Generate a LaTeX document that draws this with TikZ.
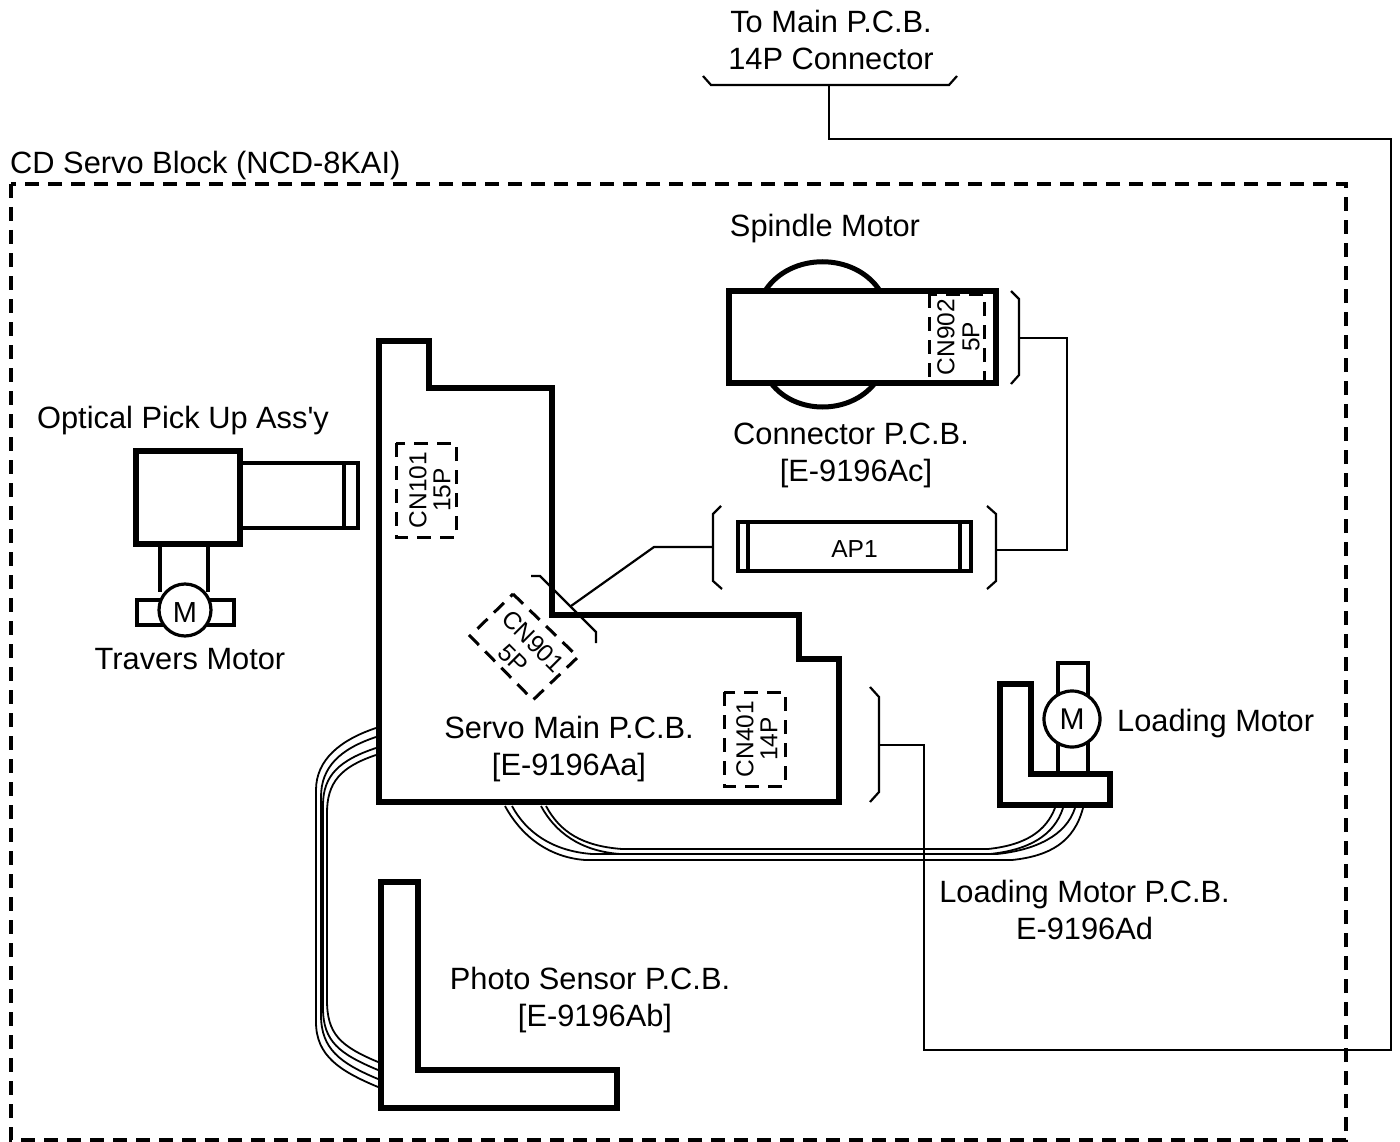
\documentclass[tikz,border=0pt]{standalone}
\usepackage{fontspec}
\setmainfont{Liberation Sans}
\tikzset{
  board/.style={draw=black,line width=6pt,line join=miter,fill=white,outer sep=0pt,inner sep=0pt},
  thin/.style={draw=black,line width=2.2pt,line join=miter},
  part/.style={draw=black,line width=3.2pt,line join=miter},
  cable/.style={draw=black,line width=1.8pt},
  dashbox/.style={draw=black,line width=3pt,dash pattern=on 14pt off 9pt},
  label/.style={font=\fontsize{30.8}{37}\selectfont,align=center,inner sep=0pt},
  small/.style={font=\fontsize{24.5}{24.5}\selectfont,align=center,inner sep=0pt},
  motor/.style={circle,draw=black,line width=3.2pt,fill=white,minimum size=52pt,inner sep=0pt,outer sep=0pt,font=\fontsize{29}{29}\selectfont},
}
\begin{document}
\begin{tikzpicture}[x=1pt,y=-1pt]
\useasboundingbox (0,0) rectangle (1400,1142);
% frame
\draw[dashbox,line width=3.4pt] (11,184) rectangle (1346,1140);
\node[label,anchor=west] (blocklabel) at (10,166) {CD Servo Block (NCD-8KAI)};
% main connector
\node[label] (mainlabel) at (831,40) {To Main P.C.B.\\14P Connector};
\draw[thin] (703,76) -- (711,85) -- (949,85) -- (957,76);
\coordinate (mainjack) at (829,85);
% spindle
\draw[part,line width=5pt] (765,291) .. controls (790,252) and (855,252) .. (880,291);
\draw[part,line width=5pt] (771,383) .. controls (795,415) and (850,415) .. (875,383);
\node[board,minimum width=267pt,minimum height=92pt,anchor=north west] (spindlepcb) at (729,291) {};
\draw[dashbox] (929,294) rectangle (984,381);
\node[small,rotate=90] (cn902a) at (946,337) {CN902};
\node[small,rotate=90] (cn902b) at (971,337) {5P};
\node[label] (spindlelabel) at (825,229) {Spindle Motor};
\node[label] (connlabel) at (851,455) {Connector P.C.B.\\\hspace*{10pt}[E-9196Ac]};
\draw[thin] (1011,291) -- (1019,299) -- (1019,375) -- (1011,384);
\coordinate (spindlejack) at (1019,338);
% AP1
\node[draw=black,line width=3.4pt,minimum width=233pt,minimum height=49pt,inner sep=0pt,outer sep=0pt,text height=21.7pt,text depth=0pt,font=\fontsize{24.6}{24.6}\selectfont] (ap1) at (854.5,546.5) {AP1};
\draw[part] (748,522) -- (748,571) (960,522) -- (960,571);
\draw[thin] (721,506) -- (713,514) -- (713,581) -- (722,589);
\draw[thin] (987,506) -- (996,514) -- (996,581) -- (987,589);
\coordinate (apleft) at (713,547);
\coordinate (apright) at (996,550);
\draw[thin] (spindlejack) -- (1067,338) -- (1067,550) -- (apright);
% servo main
\draw[board,fill=none] (379,341) -- (429,341) -- (429,388) -- (552,388) -- (552,615) -- (799,615) -- (799,659) -- (839,659) -- (839,802) -- (379,802) -- cycle;
\draw[dashbox] (396,443) rectangle (456,537);
\node[small,rotate=90] (cn101a) at (418,490) {CN101};
\node[small,rotate=90] (cn101b) at (442,490) {15P};
\draw[dashbox] (724,692) rectangle (785,786);
\node[small,rotate=90] (cn401a) at (745,739) {CN401};
\node[small,rotate=90] (cn401b) at (769,739) {14P};
\draw[dashbox] (513,594) -- (578,657) -- (533,700) -- (470,636) -- cycle;
\node[small,rotate=-45] (cn901a) at (533,641) {CN901};
\node[small,rotate=-45] (cn901b) at (513,659) {5P};
\draw[thin] (531,576) -- (540,576) -- (596,632) -- (596,643);
\coordinate (cn901jack) at (571,606);
\draw[thin] (apleft) -- (654,547) -- (cn901jack);
\node[label] (servolabel) at (569,749) {Servo Main P.C.B.\\{}[E-9196Aa]};
% servo bracket and long line
\draw[thin] (870,687) -- (879,697) -- (879,792) -- (870,802);
\coordinate (servojack) at (879,745);
\draw[thin] (mainjack) -- (829,139) -- (1391,139) -- (1391,1050) -- (924,1050) -- (924,745) -- (servojack);
% optical
\draw[part] (243,463) -- (358,463) -- (358,528) -- (243,528) (344,463) -- (344,528);
\node[board,minimum width=104pt,minimum height=93pt,anchor=north west] (optical) at (136,451) {};
\draw[part] (160,547) -- (160,592) (208,547) -- (208,592);
\draw[part,line width=3.6pt] (137,600) rectangle (234,625);
\node[motor,text height=25pt,text depth=0pt] (tmotor) at (185,610) {M};
\node[label] (oplabel) at (183,421) {Optical Pick Up Ass\textquotesingle y};
\node[label] (tmlabel) at (190,659) {Travers Motor};
% loading motor
\draw[part] (1058,774) -- (1058,663) -- (1088,663) -- (1088,774);
\node[motor,minimum size=56pt,font=\fontsize{30}{30}\selectfont] (lmotor) at (1072,719) {M};
\draw[board] (1000,684) -- (1031,684) -- (1031,774) -- (1110,774) -- (1110,805) -- (1000,805) -- cycle;
\node[label,anchor=west] (lmlabel) at (1117,724) {Loading Motor};
\node[label] (lplabel) at (1084.5,910) {Loading Motor P.C.B.\\E-9196Ad};
% photo sensor
\draw[board] (381,882) -- (418,882) -- (418,1070) -- (617,1070) -- (617,1108) -- (381,1108) -- cycle;
\node[label] (pslabel) at (590,1000) {Photo Sensor P.C.B.\\\hspace*{10pt}[E-9196Ab]};
% cables servo to photo sensor
\foreach \n/\ya/\xv/\yv/\yb/\yc in {1/728/316/790/1022/1087,2/737/321/797/1015/1079,3/748/323/805/1008/1070,4/755/327/813/1000/1062}{
  \coordinate (sa\n) at (376,\ya);
  \coordinate (pa\n) at (378,\yc);
  \draw[cable] (sa\n) .. controls (340,\ya+12) and (\xv,\yv-30) .. (\xv,\yv) -- (\xv,\yb) .. controls (\xv,\yb+34) and (340,\yc-16) .. (pa\n);
}
% cables servo to loading
\foreach \n/\xa/\xb/\yh/\xc/\xd in {1/505/585/860/1012/1083,2/512/592/854/997/1075,3/541/620/854/990/1063,4/546/622/849/988/1055}{
  \coordinate (sb\n) at (\xa,806);
  \coordinate (lb\n) at (\xd,808);
  \draw[cable] (sb\n) .. controls (\xa+14,832) and (\xb-40,\yh-3) .. (\xb,\yh) -- (\xc,\yh) .. controls (\xc+38,\yh-4) and (\xd-9,\yh-18) .. (lb\n);
}
\end{tikzpicture}
\end{document}
